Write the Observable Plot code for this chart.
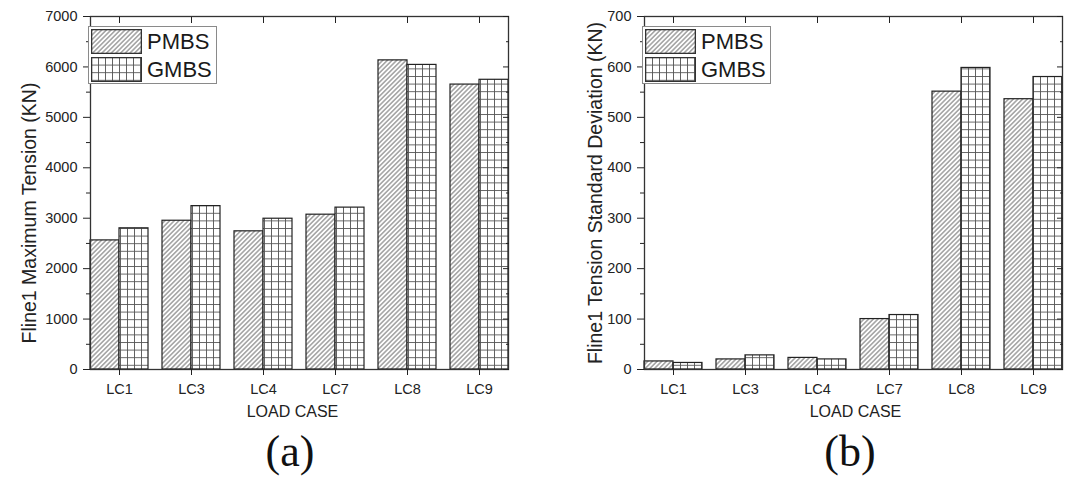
<!DOCTYPE html>
<html><head><meta charset="utf-8">
<script src="https://cdn.jsdelivr.net/npm/d3@7"></script>
<script src="https://cdn.jsdelivr.net/npm/@observablehq/plot@0.6"></script>
<style>
html,body{margin:0;padding:0;background:#fff;overflow:hidden;width:1065px;height:477px;}
#wrap{position:relative;width:1065px;height:477px;overflow:hidden;background:#fff;}
.panel{position:absolute;top:0;height:477px;}
.legend{position:absolute;border:1px solid #8a8a8a;background:#fff;box-sizing:border-box;width:129px;height:58px;font-family:"Liberation Sans",Arial,sans-serif;color:#1a1a1a;}
.legend svg{position:absolute;left:2px;}
.legend span{position:absolute;left:58px;font-size:22px;line-height:22px;}
.caption{position:absolute;top:430px;font-family:"Liberation Serif","Times New Roman",serif;font-size:44px;line-height:44px;color:#111;transform:translateX(-50%);white-space:nowrap;}
</style>
</head><body>
<svg width="0" height="0" style="position:absolute;left:0;top:0"><defs>
<pattern id="hatch" patternUnits="userSpaceOnUse" width="3.3" height="3.3" patternTransform="rotate(45)">
<rect width="3.3" height="3.3" fill="#fff"/><line x1="1.65" y1="0" x2="1.65" y2="3.3" stroke="#555" stroke-width="0.85"/></pattern>
<pattern id="grid" patternUnits="userSpaceOnUse" width="7" height="7.6">
<rect width="7" height="7.6" fill="#fff"/><path d="M0.5,0V7.6M0,0.5H7" stroke="#555" stroke-width="0.9" fill="none"/></pattern>
</defs></svg>
<div id="wrap">
  <div class="panel" id="pa" style="left:0;width:532px"></div>
  <div class="panel" id="pb" style="left:532px;width:539px"></div>
</div>
<script>
// ---- data ----
const cases = ["LC1", "LC3", "LC4", "LC7", "LC8", "LC9"];
const series = ["PMBS", "GMBS"];
const maxTensionPMBS = [2560, 2950, 2740, 3070, 6130, 5650];
const maxTensionGMBS = [2800, 3240, 2990, 3210, 6040, 5745];
const stdDevPMBS = [16, 20, 23, 100, 551, 536];
const stdDevGMBS = [13, 28, 20, 108, 598, 580];
const xTitle = "LOAD CASE";
const yTitleA = "Fline1 Maximum Tension (KN)";
const yTitleB = "Fline1 Tension Standard Deviation (KN)";

const fills = {PMBS: "url(#hatch)", GMBS: "url(#grid)"};

function makePanel(el, pmbs, gmbs, yMax, yStep, yTitle, opts) {
  const rows = [];
  cases.forEach((c, i) => {
    rows.push({lc: c, series: "PMBS", value: pmbs[i]});
    rows.push({lc: c, series: "GMBS", value: gmbs[i]});
  });
  const major = d3.range(0, yMax + yStep / 2, yStep);
  const minor = d3.range(yStep / 2, yMax, yStep);
  const blank = () => "";
  const chart = Plot.plot({
    width: opts.width, height: 430,
    marginLeft: opts.marginLeft, marginRight: opts.marginRight, marginTop: 16, marginBottom: 61,
    style: {fontFamily: "'Liberation Sans', Arial, sans-serif", fontSize: "14px", color: "#222", background: "#fff"},
    fx: {domain: cases, paddingInner: 0.2, paddingOuter: 0.1, label: null, axis: null},
    x: {domain: series, padding: 0, axis: null},
    y: {domain: [0, yMax], axis: null},
    marks: [
      ...series.map(s => Plot.barY(rows.filter(d => d.series === s), {
        fx: "lc", x: "series", y: "value", fill: fills[s], stroke: "#222", strokeWidth: 1.2
      })),
      Plot.frame({facet: "super", stroke: "#333", strokeWidth: 1.3}),
      Plot.axisY({anchor: "left", ticks: major, tickSize: 7, tickPadding: 6, tickFormat: d3.format("d"), label: null, fontSize: 14.5}),
      Plot.axisY({anchor: "left", ticks: minor, tickSize: 4, tickFormat: blank, label: null}),
      Plot.axisY({anchor: "right", ticks: major, tickSize: -6, tickFormat: blank, label: null}),
      Plot.axisY({anchor: "right", ticks: minor, tickSize: -3, tickFormat: blank, label: null}),
      Plot.axisFx({anchor: "bottom", tickSize: 6, tickPadding: 8, label: null, fontSize: 14.5}),
      Plot.axisFx({anchor: "top", tickSize: -6, tickFormat: blank, label: null}),
      Plot.text([yTitle], {facet: "super", text: d => d, frameAnchor: "left", textAnchor: "middle", rotate: -90, dx: opts.yTitleDx, dy: opts.yTitleDy, fontSize: 19.5, fill: "#222"}),
      Plot.text([xTitle], {facet: "super", text: d => d, frameAnchor: "bottom", textAnchor: "middle", dy: 47, dx: opts.xTitleDx, fontSize: 16, fill: "#222"})
    ]
  });
  el.appendChild(chart);

  const lg = document.createElement("div");
  lg.className = "legend";
  lg.style.left = opts.legendLeft + "px";
  lg.style.top = "26px";
  series.forEach((s, i) => {
    const ns = "http://www.w3.org/2000/svg";
    const sw = document.createElementNS(ns, "svg");
    sw.setAttribute("width", 51); sw.setAttribute("height", 25);
    sw.style.top = (2 + i * 28) + "px";
    const r = document.createElementNS(ns, "rect");
    r.setAttribute("x", 0.65); r.setAttribute("y", 0.65);
    r.setAttribute("width", 49.7); r.setAttribute("height", 23.7);
    r.setAttribute("fill", fills[s]); r.setAttribute("stroke", "#333"); r.setAttribute("stroke-width", 1.3);
    sw.appendChild(r);
    lg.appendChild(sw);
    const t = document.createElement("span");
    t.textContent = s;
    t.style.top = (4 + i * 28) + "px";
    lg.appendChild(t);
  });
  el.appendChild(lg);

  const cap = document.createElement("div");
  cap.className = "caption";
  cap.style.left = opts.captionX + "px";
  cap.textContent = opts.caption;
  el.appendChild(cap);
}

makePanel(document.getElementById("pa"), maxTensionPMBS, maxTensionGMBS, 7000, 1000, yTitleA,
  {width: 532, marginLeft: 82, marginRight: 16, yTitleDx: -61, yTitleDy: 20, xTitleDx: -7, legendLeft: 88, caption: "(a)", captionX: 290});
makePanel(document.getElementById("pb"), stdDevPMBS, stdDevGMBS, 700, 100, yTitleB,
  {width: 539, marginLeft: 104, marginRight: 1, yTitleDx: -49, yTitleDy: 0, xTitleDx: 2, legendLeft: 110, caption: "(b)", captionX: 318});
</script>
</body></html>
